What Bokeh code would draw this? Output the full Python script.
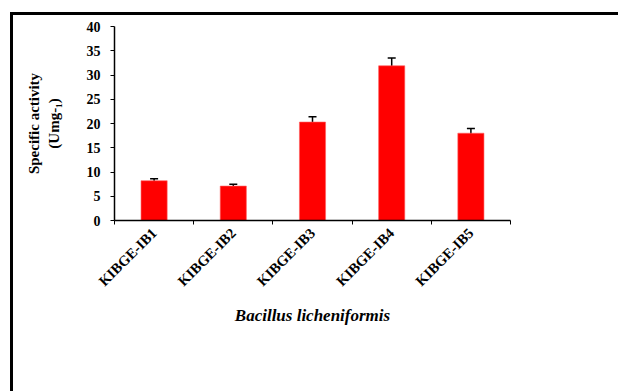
import numpy as np
from bokeh.plotting import figure
from bokeh.models import ColumnDataSource, FixedTicker, Whisker, Range1d, TeeHead
from bokeh.embed import file_html
from bokeh.resources import INLINE

categories = ["KIBGE-IB1", "KIBGE-IB2", "KIBGE-IB3", "KIBGE-IB4", "KIBGE-IB5"]
activity = [8.2, 7.1, 20.3, 31.9, 18.0]
errors = [0.4, 0.4, 1.1, 1.6, 0.95]
y_ticks = [0, 5, 10, 15, 20, 25, 30, 35, 40]

x = np.arange(len(categories)) + 0.5
src = ColumnDataSource(dict(
    x=x, top=activity,
    upper=np.array(activity) + np.array(errors),
    lower=np.array(activity) - np.array(errors),
))

p = figure(width=608, height=379, output_backend="svg", toolbar_location=None,
           x_range=Range1d(0, len(categories)), y_range=Range1d(0, 40),
           min_border_left=101, min_border_top=11, min_border_right=111, min_border_bottom=174)
p.styles = {"margin-left": "10px", "margin-top": "12px",
            "border-left": "3px solid black", "border-top": "3px solid black"}
p.outline_line_color = None
p.xgrid.visible = False
p.ygrid.visible = False
p.background_fill_color = "white"
p.border_fill_color = "white"

p.vbar(x="x", top="top", width=0.33, source=src, fill_color="#FF0000",
       line_color="#FF6060", line_width=0.6)

w = Whisker(base="x", upper="upper", lower="lower", source=src,
            line_color="black", line_width=1.5,
            upper_head=TeeHead(size=8, line_color="black", line_width=1.5),
            lower_head=TeeHead(size=8, line_color="black", line_width=1.5))
p.add_layout(w)

serif = "Liberation Serif"

p.xaxis.ticker = FixedTicker(ticks=list(x), minor_ticks=list(range(len(categories) + 1)))
p.xaxis.major_label_overrides = {float(xi): c for xi, c in zip(x, categories)}
p.xaxis.major_label_orientation = np.pi / 4
p.xaxis.major_tick_out = 0
p.xaxis.major_tick_in = 0
p.xaxis.minor_tick_out = 4
p.xaxis.minor_tick_in = 0
p.xaxis.minor_tick_line_color = "black"
p.xaxis.major_label_text_font = serif
p.xaxis.major_label_text_font_style = "bold"
p.xaxis.major_label_text_font_size = "14.5px"
p.xaxis.major_label_text_color = "black"
p.xaxis.major_label_standoff = 6
p.xaxis.axis_label = "Bacillus licheniformis"
p.xaxis.axis_label_text_font = serif
p.xaxis.axis_label_text_font_style = "bold italic"
p.xaxis.axis_label_text_font_size = "17px"
p.xaxis.axis_label_text_color = "black"
p.xaxis.axis_label_standoff = 8
p.xaxis.axis_line_width = 1.5

p.yaxis.ticker = FixedTicker(ticks=y_ticks)
p.yaxis.minor_tick_line_color = None
p.yaxis.major_tick_out = 4
p.yaxis.major_tick_in = 0
p.yaxis.major_label_text_font = serif
p.yaxis.major_label_text_font_style = "bold"
p.yaxis.major_label_text_font_size = "14px"
p.yaxis.major_label_text_color = "black"
p.yaxis.major_label_standoff = 10
p.yaxis.axis_label = "Specific activity\n(Umg-\u2081)"
p.yaxis.axis_label_text_font = serif
p.yaxis.axis_label_text_font_style = "bold"
p.yaxis.axis_label_text_font_size = "15px"
p.yaxis.axis_label_text_color = "black"
p.yaxis.axis_label_standoff = 22
p.yaxis.axis_line_width = 1.5

open("out.html", "w").write(file_html(p, INLINE))
